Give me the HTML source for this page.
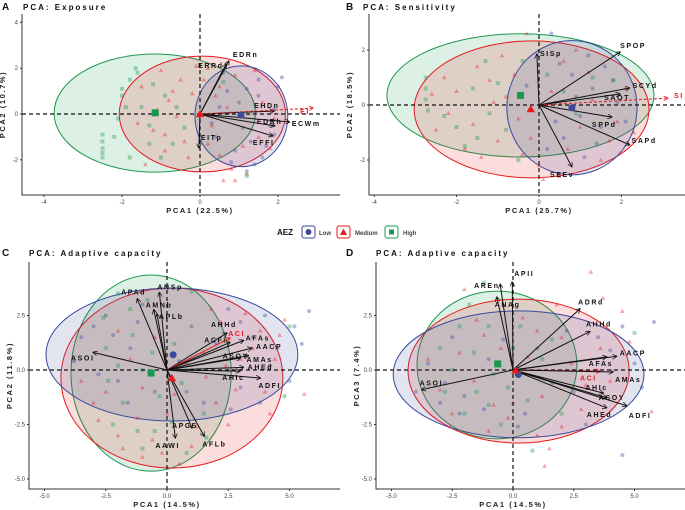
<!DOCTYPE html>
<html><head><meta charset="utf-8"><style>
body{margin:0;background:#fff}
svg{display:block;font-family:"Liberation Sans Narrow","Liberation Sans",sans-serif}
.t{font-weight:bold;font-size:8px;letter-spacing:2px;fill:#111}
.tk{font-size:6px;fill:#444}
.al{font-size:7.5px;font-weight:bold;letter-spacing:1.6px;fill:#222}
.lb{font-size:7px;font-weight:bold;letter-spacing:1.6px;fill:#111}
</style></head><body>
<svg id="c" width="685" height="510" viewBox="0 0 685 510">
<defs>
<marker id="ah" viewBox="0 0 10 10" refX="9" refY="5" markerWidth="5" markerHeight="5" orient="auto"><path d="M0,0L10,5L0,10" fill="none" stroke="#111" stroke-width="1.5"/></marker>
<marker id="ahr" viewBox="0 0 10 10" refX="9" refY="5" markerWidth="5" markerHeight="5" orient="auto"><path d="M0,0L10,5L0,10" fill="none" stroke="#e41a1c" stroke-width="1.5"/></marker>
</defs>
<g>
<text x="277" y="235" font-size="8" font-weight="bold" fill="#111" font-family="Liberation Sans">AEZ</text>
<g><rect x="302" y="226" width="13" height="12" fill="#fff" stroke="#3a4a9a" rx="2"/><circle cx="308.5" cy="232" r="3" fill="#3a4a9a"/><text x="319" y="235" class="tk" font-weight="bold">Low</text></g>
<g><rect x="337" y="226" width="13" height="12" fill="#fff" stroke="#e41a1c" rx="2"/><path d="M343.5,228.5L347,235L340,235Z" fill="#e41a1c"/><text x="355" y="235" class="tk" font-weight="bold">Medium</text></g>
<g><rect x="385" y="226" width="13" height="12" fill="#fff" stroke="#1a9850" rx="2"/><rect x="389" y="229.5" width="5" height="5" fill="#1a9850"/><text x="403" y="235" class="tk" font-weight="bold">High</text></g>
</g>
</svg>
<script>
// ---- data (data units) ----
const groups=["Low","Medium","High"];
// Panel A: Exposure
const aTicksX=[-4,-2,0,2], aTicksY=[-2,0,2,4];
const aEll=[[1.06,-0.1,1.19,2.2],[0.06,0,2.13,2.53],[-1.16,0.04,2.58,2.58]];
const aCent=[[1.05,-0.05],[0,0],[-1.15,0.05]];
const aArrowNames=["EDRn","ERRd","EHDn","ECWm","EDRh","EFFI","EITp","EI"];
const aArrowX=[0.74,0.67,1.9,2.3,1.92,1.87,-0.03,2.9];
const aArrowY=[2.31,2.18,0.13,-0.35,-0.52,-0.96,-1.48,0.26];
const aPtsLow=[[1.2,1.1],[1.5,0.8],[0.7,1.0],[1.8,-0.5],[1.3,-1.2],[0.9,-1.6],[1.6,-1.9],[2.0,1.2],[0.5,0.3],[1.1,-0.6],[1.4,-2.2],[0.8,-2.1],[1.9,0.2],[0.4,-1.0],[1.5,1.5],[0.6,1.8],[1.7,-1.4],[1.0,0.5],[0.3,-0.4],[1.9,-0.9],[1.2,-2.5],[2.1,1.6]];
const aPtsMed=[[-1.0,1.9],[-0.5,1.5],[0.2,2.0],[-1.5,1.2],[-0.8,0.6],[0.5,1.2],[-1.2,-0.7],[-0.4,-1.2],[0.3,-0.5],[-0.9,-1.6],[0.8,-2.4],[1.5,-1.0],[-0.2,0.9],[-1.4,-2.2],[0.6,-2.9],[1.2,-2.6],[1.9,-0.2],[-0.6,-0.1],[0.1,1.5],[1.6,0.5],[-1.1,0.2],[-0.3,-1.9],[0.4,0.8],[-0.7,1.0],[0.9,1.7],[1.1,-1.4],[-1.6,-0.4],[0.2,-1.3],[-0.1,2.1],[0.7,0.3],[1.4,1.9],[-0.9,-0.9],[0.5,-1.8],[1.8,-1.5],[0.9,-2.9]];
const aPtsHigh=[[-1.65,2.0],[-1.8,1.5],[-2.0,0.8],[-2.5,-0.9],[-2.5,-1.5],[-2.5,-1.9],[-2.1,-0.2],[-1.5,0.3],[-0.9,0.8],[-1.3,-1.3],[-1.8,-1.9],[-0.4,-0.6],[0.6,1.4],[1.2,-2.7],[-1.0,-1.9],[-0.6,0.3],[-2.5,-1.2],[-2.5,-1.7],[-2.2,-1.0],[-1.9,0.3],[-1.6,1.8],[-2.0,1.1],[-1.3,-0.5],[-0.7,-1.3],[-1.2,1.3]];
// Panel B: Sensitivity
const bTicksX=[-4,-2,0,2], bTicksY=[-2,0,2];
const bEll=[[0.8,-0.1,1.58,2.44],[-0.18,-0.16,2.85,2.49],[-0.45,0.35,3.24,2.24]];
const bCent=[[0.8,-0.1],[-0.2,-0.15],[-0.45,0.35]];
const bArrowNames=["SISp","SPOP","SCYd","SAOT","SI","SPPd","SAPd","SEEv"];
const bArrowX=[-0.05,1.97,2.2,1.97,3.13,1.77,2.2,0.8];
const bArrowY=[1.85,1.93,0.62,0.4,0.25,-0.44,-1.45,-2.25];
const bPtsLow=[[0.5,1.5],[1.2,1.8],[1.8,0.9],[0.9,0.3],[1.5,-0.8],[0.6,-1.2],[1.1,-1.9],[0.3,2.6],[1.9,0.1],[0.4,-0.6],[1.3,0.6],[2.1,-0.6],[0.8,1.1],[1.6,1.4],[0.2,-1.6],[1.0,-0.4],[-0.3,0.7],[1.4,-1.4]];
const bPtsMed=[[-2.5,-0.9],[-2.0,0.5],[-1.5,1.4],[-1.0,-1.3],[-0.5,-0.5],[0,-2.2],[0.7,-1.6],[1.2,1.2],[1.7,-1.3],[-1.8,-1.6],[-1.2,0.9],[0.9,2.0],[-0.3,2.6],[2.1,0.6],[-2.3,1.0],[0.5,-2.6],[1.5,-2.0],[-0.8,0.3],[-2.2,-0.3],[-1.6,-0.7],[-1.1,0.1],[-0.6,1.1],[-0.2,-1.2],[0.3,0.5],[0.6,1.6],[1.0,-0.8],[1.9,-0.6],[-1.4,-1.9],[-0.9,1.8],[0.1,-2.7],[2.3,-1.0],[-2.6,0.4],[1.3,0.2],[-0.4,-1.8]];
const bPtsHigh=[[-2.75,1.0],[-2.75,0.6],[-2.75,0.2],[-2.7,-0.2],[-2.0,-0.8],[-1.5,-1.2],[-1.0,0.8],[-0.4,1.6],[0.6,0.5],[1.3,1.0],[-1.8,-1.5],[-0.5,-2.0],[1.8,0.9],[-1.2,-0.3],[-1.6,0.6],[-2.3,-0.4],[-0.8,-0.9],[0.2,1.1],[-1.3,1.6],[0.9,-0.3]];
// Panel C: Adaptive capacity (PC1 vs PC2)
const cTicksX=[-5,-2.5,0,2.5,5], cTicksY=[-5,-2.5,0,2.5];
const cEll=[[0.2,0.71,5.14,3.05],[0.2,-0.37,4.53,4.13],[-0.65,-0.14,3.27,4.5]];
const cCent=[[0.25,0.7],[0.2,-0.37],[-0.65,-0.14]];
const cArrowNames=["ANSp","APAd","AMNb","APLb","AHHd","ACFi","ACI","AFAs","AACP","ASOY","AMAs","AHEd","AHIc","ADFI","ASOI","APCS","AAWI","AFLb"];
const cArrowX=[-0.31,-1.22,-0.54,-0.41,2.45,2.58,2.58,3.13,3.47,3.33,3.0,3.13,2.99,3.81,-3.02,1.02,0.34,1.52];
const cArrowY=[3.56,3.27,2.77,2.57,1.7,1.27,1.47,1.36,1.01,0.66,0.55,0.12,-0.05,-0.37,0.81,-2.66,-3.12,-3.04];
const cPtsLow=[[-3.5,1.5],[-2.5,2.5],[-1.5,1.0],[-0.5,-1.0],[1.0,2.0],[2.5,2.8],[3.5,1.5],[4.5,1.0],[5.5,1.2],[5.8,2.7],[-2.0,-0.5],[1.5,-1.5],[3.0,-0.8],[-3.8,0.4],[-1.0,3.0],[4.0,2.5],[-3.0,2.0],[-2.2,1.6],[-1.2,2.2],[0.5,0.4],[2.0,1.2],[3.0,2.2],[4.2,0.2],[5.0,-0.5],[-2.8,-0.2],[-1.6,-1.5],[0.8,-1.0],[2.6,-1.8],[3.8,-1.5],[5.2,2.0]];
const cPtsMed=[[-3.0,-1.5],[-2.0,-3.0],[-1.0,-4.0],[0,-2.0],[1.0,-3.5],[2.0,-1.5],[3.0,0.5],[4.0,-1.0],[4.8,2.3],[5.6,-1.1],[-1.5,0.5],[-0.5,1.5],[1.5,0.8],[2.5,-2.5],[-2.5,-1.0],[0.5,-4.3],[3.8,1.8],[-1.2,-2.2],[0.8,0.3],[2.2,2.2],[-3.5,-0.5],[-2.8,-2.3],[-1.8,-3.6],[-0.6,-3.2],[0.3,-1.1],[1.2,-2.6],[2.8,-0.9],[3.5,1.0],[4.4,0.5],[4.2,-2.0],[-1.0,-0.8],[-2.0,1.8],[1.8,2.8],[3.2,2.6],[4.6,1.6],[-0.2,-3.8],[1.6,-0.3],[2.4,0.2]];
const cPtsHigh=[[-2.0,3.5],[-1.5,2.8],[-0.8,3.2],[-2.5,1.0],[-1.0,0],[-1.8,-1.5],[-0.5,-2.8],[0.8,-3.8],[1.5,-2.0],[-2.2,-2.5],[0.3,1.2],[5.0,2.0],[4.8,-1.2],[-0.3,-1.2],[1.0,3.6],[-2.6,2.4],[-1.4,1.6],[-2.4,-0.5],[-1.2,-2.8],[0.2,-2.4],[1.6,-3.1],[-0.6,0.8],[0.6,-0.6],[-2.0,0.2],[-1.0,-3.6]];
// Panel D: Adaptive capacity (PC1 vs PC3)
const dTicksX=[-5,-2.5,0,2.5,5], dTicksY=[-5,-2.5,0,2.5];
const dEll=[[0.23,-0.2,5.16,2.91],[0.23,-0.05,4.55,3.3],[-0.66,0.23,3.29,3.39]];
const dCent=[[0.22,-0.21],[0.1,-0.02],[-0.63,0.28]];
const dArrowNames=["APII","AREn","ANAg","ADRd","AHHd","AACP","AFAs","ACI","AMAs","AHIc","ASOY","ADFI","AHEd","ASOI"];
const dArrowX=[-0.03,-0.53,-0.67,2.76,3.17,4.27,3.86,3.58,4.12,3.72,3.86,4.68,3.86,-3.76];
const dArrowY=[4.04,3.94,3.35,2.81,1.77,0.63,0.6,-0.06,-0.09,-1.06,-1.28,-1.64,-1.74,-0.9];
const dPtsLow=[[-4.0,-1.0],[-3.0,-1.5],[-2.0,-1.2],[-1.0,0.5],[1.0,1.0],[2.5,-1.0],[3.5,1.5],[4.5,2.0],[5.8,2.2],[4.5,-3.9],[-2.5,1.5],[0.5,-2.0],[3.0,-2.5],[5.0,0.3],[-3.5,0.3],[-2.2,-2.0],[-1.2,-1.8],[-0.4,1.4],[1.6,-0.6],[2.2,1.8],[4.0,0.9],[5.3,-0.8],[-2.8,-0.6],[0.2,-2.6]];
const dPtsMed=[[-3.5,0.5],[-2.5,-2.0],[-1.5,2.3],[-2.0,3.7],[0,-1.5],[1.0,-3.0],[2.0,1.5],[3.2,4.5],[3.7,3.3],[4.5,2.7],[5.7,-1.9],[1.5,-3.6],[1.3,-4.4],[-1.0,-2.8],[2.8,-1.8],[-0.5,1.0],[4.0,-0.5],[1.8,3.0],[-3.0,-0.9],[-2.2,0.8],[-1.6,-0.5],[-0.8,-1.6],[0.6,0.6],[1.2,-1.2],[2.4,0.3],[3.0,-0.7],[3.6,1.0],[4.8,1.3],[-1.2,1.6],[0.4,2.4],[2.0,-2.6],[-2.6,-2.6],[1.0,1.8],[-0.2,-2.2]];
const dPtsHigh=[[-1.2,4.0],[-1.8,3.0],[-1.0,2.0],[-2.5,0],[-1.5,-1.0],[-0.5,-2.5],[0.8,-3.7],[1.2,0.5],[-3.0,1.0],[5.0,1.7],[0.3,2.0],[2.0,-2.0],[-0.2,-0.8],[-2.2,2.0],[-1.6,0.8],[-0.8,-0.2],[-2.0,-2.0],[0.6,-1.4],[1.6,1.4],[-1.0,-1.6],[-2.8,-1.0],[0.0,1.0]];

// ---- layout (pixels) ----
const panels=[
 {id:"a",letter:"A",title:"PCA: Exposure",xl:"PCA1 (22.5%)",yl:"PCA2 (10.7%)",L:22,R:340,T:14,B:195,x0:200,y0:114,sx:39,sy:22.9,tx:23,ty:10,lx:2,ly:10,
  tX:aTicksX,tY:aTicksY,ell:aEll,cent:aCent,an:aArrowNames,ax:aArrowX,ay:aArrowY,pts:[aPtsLow,aPtsMed,aPtsHigh],fmt:v=>String(v),
  loff:{EDRn:[4,-4],ERRd:[-28,4],EHDn:[-20,-3],ECWm:[2,4],EDRh:[-18,-2],EFFI:[-20,9],EITp:[2,-8],EI:[-13,6]}},
 {id:"b",letter:"B",title:"PCA: Sensitivity",xl:"PCA1 (25.7%)",yl:"PCA2 (18.5%)",L:369,R:685,T:14,B:195,x0:539,y0:105,sx:41.2,sy:27.5,tx:363,ty:10,lx:346,ly:10,
  tX:bTicksX,tY:bTicksY,ell:bEll,cent:bCent,an:bArrowNames,ax:bArrowX,ay:bArrowY,pts:[bPtsLow,bPtsMed,bPtsHigh],fmt:v=>String(v),
  loff:{SISp:[3,2],SPOP:[0,-4],SCYd:[3,0],SAOT:[-16,6],SI:[6,0],SPPd:[-20,10],SAPd:[2,-2],SEEv:[-22,10]}},
 {id:"c",letter:"C",title:"PCA: Adaptive capacity",xl:"PCA1 (14.5%)",yl:"PCA2 (11.8%)",L:29,R:340,T:262,B:489,x0:167,y0:370,sx:24.5,sy:21.8,tx:29,ty:256,lx:2,ly:256,
  tX:cTicksX,tY:cTicksY,ell:cEll,cent:cCent,an:cArrowNames,ax:cArrowX,ay:cArrowY,pts:[cPtsLow,cPtsMed,cPtsHigh],fmt:v=>v.toFixed(1),
  loff:{ANSp:[-2,-3],APAd:[-16,-4],AMNb:[-8,-2],APLb:[2,5],AHHd:[-16,-6],ACFi:[-26,0],ACI:[-2,-2],AFAs:[2,0],AACP:[4,1],ASOY:[-26,3],AMAs:[6,4],AHEd:[4,2],AHIc:[-18,9],ADFI:[-2,10],ASOI:[-22,8],APCS:[-20,0],AAWI:[-20,10],AFLb:[-2,10]}},
 {id:"d",letter:"D",title:"PCA: Adaptive capacity",xl:"PCA1 (14.5%)",yl:"PCA3 (7.4%)",L:376,R:685,T:262,B:489,x0:513,y0:370,sx:24.3,sy:21.8,tx:376,ty:256,lx:346,ly:256,
  tX:dTicksX,tY:dTicksY,ell:dEll,cent:dCent,an:dArrowNames,ax:dArrowX,ay:dArrowY,pts:[dPtsLow,dPtsMed,dPtsHigh],fmt:v=>v.toFixed(1),
  loff:{APII:[2,-6],AREn:[-26,4],ANAg:[-2,10],ADRd:[-2,-4],AHHd:[-4,-5],AACP:[3,-1],AFAs:[-18,9],ACI:[-20,9],AMAs:[2,10],AHIc:[-18,-3],ASOY:[-8,2],ADFI:[2,12],AHEd:[-20,9],ASOI:[-2,-4]}}
];
const col=["#3b4a9b","#e41a1c","#1a9850"];
const NS="http://www.w3.org/2000/svg";
const svg=document.getElementById("c");
function mk(tag,at,parent){const e=document.createElementNS(NS,tag);for(const k in at)e.setAttribute(k,at[k]);(parent||svg).appendChild(e);return e;}
function shape(g,k,x,y,s,op){
  let e;
  if(k===0)e=mk("circle",{cx:x,cy:y,r:s/2,fill:col[0],"fill-opacity":op},g);
  else if(k===1)e=mk("path",{d:`M${x},${y-s*0.6}L${x+s*0.6},${y+s*0.45}L${x-s*0.6},${y+s*0.45}Z`,fill:col[1],"fill-opacity":op},g);
  else e=mk("rect",{x:x-s/2,y:y-s/2,width:s,height:s,fill:col[2],"fill-opacity":op},g);
  return e;
}
panels.forEach(p=>{
  const X=v=>p.x0+v*p.sx, Y=v=>p.y0-v*p.sy;
  const g=mk("g",{});
  
  
  [2,1,0].forEach(k=>{const e=p.ell[k];
    const el=mk("ellipse",{cx:X(e[0]),cy:Y(e[1]),rx:e[2]*p.sx,ry:e[3]*p.sy,fill:col[k],"fill-opacity":0.15,stroke:col[k],"stroke-width":1},g);
    
    
  });
  p.pts.forEach((arr,k)=>arr.forEach(pt=>{
    const s=shape(g,k,X(pt[0]),Y(pt[1]),4,0.38);
    
    
  }));
  const vl=mk("line",{x1:X(0),x2:X(0),y1:p.T,y2:p.B,stroke:"#111","stroke-dasharray":"4,3","stroke-width":1.2},g);
  
  
  const hl=mk("line",{x1:p.L,x2:p.R,y1:Y(0),y2:Y(0),stroke:"#111","stroke-dasharray":"4,3","stroke-width":1.2},g);
  
  
  const ax=mk("path",{d:`M${p.L},${p.T}V${p.B}H${p.R}`,fill:"none",stroke:"#333","stroke-width":1},g);
  
  
  p.tX.forEach(v=>{mk("line",{x1:X(v),x2:X(v),y1:p.B,y2:p.B+2,stroke:"#333"},g);
    const t=mk("text",{x:X(v),y:p.B+9,"text-anchor":"middle",class:"tk"},g);t.textContent=p.fmt(v);
    
    });
  p.tY.forEach(v=>{mk("line",{x1:p.L-2,x2:p.L,y1:Y(v),y2:Y(v),stroke:"#333"},g);
    const t=mk("text",{x:p.L-4,y:Y(v)+2,"text-anchor":"end",class:"tk"},g);t.textContent=p.fmt(v);
    
    });
  p.an.forEach((n,i)=>{
    const red=(n==="EI"||n==="SI"||n==="ACI");
    const l=mk("line",{x1:X(0),y1:Y(0),x2:X(p.ax[i]),y2:Y(p.ay[i]),stroke:red?"#e41a1c":"#111","stroke-width":1,"stroke-dasharray":red&&n!=="ACI"?"3,2":"none","marker-end":red?"url(#ahr)":"url(#ah)"},g);
    
    
    const o=p.loff[n]||[2,0];
    const t=mk("text",{x:X(p.ax[i])+o[0],y:Y(p.ay[i])+o[1],class:"lb"},g);
    if(red)t.style.fill="#e41a1c";
    t.textContent=n;
    
    
  });
  p.cent.forEach((c,k)=>{const s=shape(g,k,X(c[0]),Y(c[1]),7,1);
    
    });
  const lt=mk("text",{x:p.lx,y:p.ly,"font-size":10,"font-weight":"bold",fill:"#111","font-family":"Liberation Sans"},g);lt.textContent=p.letter;
  
  
  const tt=mk("text",{x:p.tx,y:p.ty,class:"t"},g);tt.textContent=p.title;
  
  
  const xt=mk("text",{x:X(0),y:p.B+18,"text-anchor":"middle",class:"al"},g);xt.textContent=p.xl;
  
  
  const cy=(p.T+p.B)/2, cx=p.L-17;
  const yt=mk("text",{x:cx,y:cy,"text-anchor":"middle",class:"al",transform:`rotate(-90 ${cx} ${cy})`},g);yt.textContent=p.yl;
  
  
});
</script>
</body></html>
